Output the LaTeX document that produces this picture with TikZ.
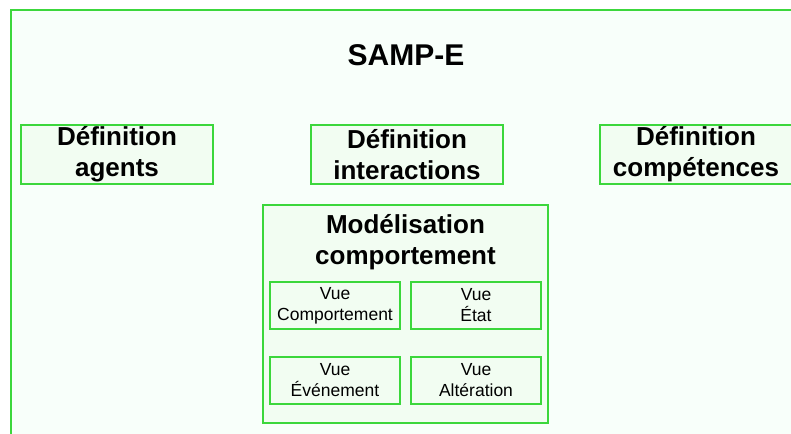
\documentclass[tikz,border=0pt]{standalone}
\usepackage{fontspec}
\setmainfont{Liberation Sans}
\usetikzlibrary{positioning}
\definecolor{boxgreen}{RGB}{60,215,60}
\definecolor{palebg}{RGB}{248,255,250}
\definecolor{boxfill}{RGB}{242,253,242}

\begin{document}
\begin{tikzpicture}[x=1pt, y=-1pt, line width=1.5pt,
  def box/.style={rectangle,draw=boxgreen,fill=boxfill,minimum width=192pt,minimum height=59pt,inner sep=0pt,align=center,font=\fontsize{26}{31}\selectfont\bfseries},
  model box/.style={rectangle,draw=boxgreen,fill=boxfill,minimum width=285pt,minimum height=218pt,inner sep=0pt},
  vue box/.style={rectangle,draw=boxgreen,fill=boxfill,minimum width=130pt,minimum height=47pt,inner sep=0pt,align=center,font=\fontsize{17.5}{21}\selectfont}]
\useasboundingbox (0,0) rectangle (791,433);
\clip (0,0) rectangle (791,433);
% cadre general
\draw[draw=boxgreen, fill=palebg] (11,10) rectangle (810,450);
\node[font=\fontsize{30}{34}\selectfont\bfseries] (title) at (406,55) {SAMP-E};
\begin{scope}
\node[def box] (agents) at (117,154.5) {Définition\\agents};
\node[def box] (interactions) at (407,154.5) {Définition\\interactions};
\node[def box] (competences) at (696,154.5) {Définition\\compétences};
\end{scope}
\node[model box] (model) at (405.5,314) {};
\node[align=center,font=\fontsize{26}{31}\selectfont\bfseries] (modeltitle) at (405.5,242) {Modélisation\\comportement};
\begin{scope}
\node[vue box] (vcomp) at (335,305.5) {Vue\\Comportement};
\node[vue box] (vetat) at (476,305.5) {Vue\\État};
\node[vue box] (vevt) at (335,380.5) {Vue\\Événement};
\node[vue box] (valt) at (476,380.5) {Vue\\Altération};
\end{scope}
\end{tikzpicture}
\end{document}
